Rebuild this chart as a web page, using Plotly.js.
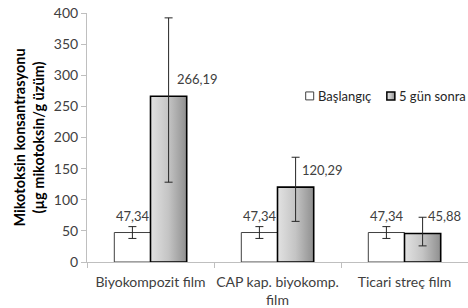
<!DOCTYPE html>
<html><head><meta charset="utf-8">
<script src="https://cdn.plot.ly/plotly-3.0.1.min.js"></script>
<style>html,body{margin:0;padding:0;background:#fff}#c{width:468px;height:308px}</style>
</head><body><div id="c"></div>
<script>
const categories = ["Biyokompozit film", "CAP kap. biyokomp.<br>film", "Ticari streç film"];
const seriesNames = ["Başlangıç", "5 gün sonra"];
const startValues = [47.34, 47.34, 47.34];
const afterValues = [266.19, 120.29, 45.88];
const startErrPlus = [9.5, 9.5, 9.5];
const startErrMinus = [9.5, 9.5, 9.5];
const afterErrPlus = [126, 48, 26];
const afterErrMinus = [138, 55, 20];
const startLabels = ["47,34", "47,34", "47,34"];
const afterLabels = ["266,19", "120,29", "45,88"];
const yTicks = [0, 50, 100, 150, 200, 250, 300, 350, 400];

const font = "Lato, 'Open Sans', sans-serif";
const traces = [
  {type:"bar", name:seriesNames[0], x:categories, y:startValues, showlegend:false,
   marker:{color:"#ffffff", line:{color:"#404040", width:1}},
   error_y:{type:"data", symmetric:false, array:startErrPlus, arrayminus:startErrMinus, color:"#262626", thickness:1, width:4}},
  {type:"bar", name:seriesNames[1], x:categories, y:afterValues, showlegend:false,
   marker:{color:"#b5b5b5", line:{color:"#000000", width:1.6}},
   error_y:{type:"data", symmetric:false, array:afterErrPlus, arrayminus:afterErrMinus, color:"#262626", thickness:1, width:4}}
];
const ann = [];
const afterShift = [47, 45, 40];
for (let i=0;i<categories.length;i++){
  ann.push({x:i, y:startValues[i], xref:"x", yref:"y", text:startLabels[i], showarrow:false,
    yanchor:"bottom", xshift:-18, yshift:7, font:{family:font, size:13, color:"#404040"}});
  ann.push({x:i, y:afterValues[i], xref:"x", yref:"y", text:afterLabels[i], showarrow:false,
    yanchor:"bottom", xshift:afterShift[i], yshift:7, font:{family:font, size:13, color:"#404040"}});
}
// legend (drawn as shapes + text)
const legX = [0.574, 0.787];
const legY = 0.667;
const shapes = [];
for (let k=0;k<2;k++){
  shapes.push({type:"rect", xref:"paper", yref:"paper", x0:legX[k], x1:legX[k]+0.021, y0:legY-0.016, y1:legY+0.016,
    fillcolor: k===0 ? "#ffffff" : "#b5b5b5", line:{color: k===0 ? "#404040" : "#000000", width: k===0 ? 1 : 1.5}});
  ann.push({x:legX[k]+0.027, y:legY, xref:"paper", yref:"paper", text:seriesNames[k], showarrow:false,
    xanchor:"left", yanchor:"middle", font:{family:font, size:13, color:"#262626"}});
}
const layout = {
  width:468, height:308,
  margin:{l:87, r:0, t:13, b:46},
  paper_bgcolor:"#fff", plot_bgcolor:"#fff",
  font:{family:font, size:13, color:"#404040"},
  barmode:"group", bargap:0.43, bargroupgap:0,
  showlegend:false,
  xaxis:{type:"category", range:[-0.5, 2.5], automargin:false, tickangle:0, showline:true, linecolor:"#bfbfbf", linewidth:1, ticks:"outside", tickson:"boundaries",
    ticklen:5, tickcolor:"#bfbfbf", ticklabelstandoff:7, showgrid:false, zeroline:false, tickfont:{family:font, size:14, color:"#404040"}},
  yaxis:{range:[0,400], automargin:false, tickvals:yTicks, showline:true, linecolor:"#bfbfbf", linewidth:1, ticks:"outside", ticklen:5,
    tickcolor:"#bfbfbf", showgrid:false, zeroline:false, tickfont:{family:font, size:14, color:"#404040"},
    title:{text:"<b>Mikotoksin konsantrasyonu</b><br><b>(µg mikotoksin/g üzüm)</b>", font:{family:font, size:14.5, color:"#000"}, standoff:5}},
  shapes: shapes,
  annotations: ann
};
Plotly.newPlot("c", traces, layout, {displayModeBar:false, staticPlot:true}).then(function(gd){
  const svg = gd.querySelector("svg.main-svg");
  const ns = "http://www.w3.org/2000/svg";
  let defs = svg.querySelector("defs");
  const lg = document.createElementNS(ns, "linearGradient");
  lg.setAttribute("id","grayGrad"); lg.setAttribute("x1","0"); lg.setAttribute("x2","1"); lg.setAttribute("y1","0"); lg.setAttribute("y2","0");
  [["0","#e2e2e2"],["0.5","#c4c4c4"],["1","#8f8f8f"]].forEach(function(s){
    const st=document.createElementNS(ns,"stop"); st.setAttribute("offset",s[0]); st.setAttribute("stop-color",s[1]); lg.appendChild(st);});
  defs.appendChild(lg);
  const traceGroups = gd.querySelectorAll(".barlayer .trace");
  if (traceGroups[1]) traceGroups[1].querySelectorAll("path").forEach(function(p){ p.style.fill="url(#grayGrad)"; });
  const shp = gd.querySelectorAll(".shapelayer path");
  if (shp[1]) shp[1].style.fill = "url(#grayGrad)";
});
</script></body></html>
